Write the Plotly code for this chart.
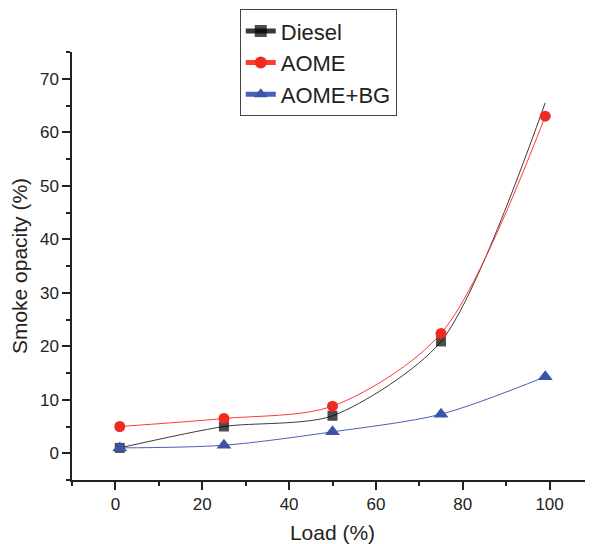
import plotly.graph_objects as go

load = [1, 25, 50, 75, 99]
diesel = [1.0, 5.0, 7.0, 20.9, 65.5]
aome = [5.0, 6.5, 8.8, 22.4, 63.0]
aome_bg = [1.0, 1.5, 4.0, 7.3, 14.3]

x_ticks = [0, 20, 40, 60, 80, 100]
y_ticks = [0, 10, 20, 30, 40, 50, 60, 70]

fig = go.Figure()

# Diesel: last marker not drawn in reference
diesel_sizes = [10] * (len(diesel) - 1) + [0]
fig.add_trace(go.Scatter(
    x=load, y=diesel, name="Diesel", mode="lines+markers",
    line=dict(color="#3a3a3a", width=1, shape="spline", smoothing=0.75),
    marker=dict(symbol="square", size=diesel_sizes, color="#000000", line=dict(width=0)),
))
fig.add_trace(go.Scatter(
    x=load, y=aome, name="AOME", mode="lines+markers",
    line=dict(color="#ff3b30", width=1, shape="spline", smoothing=0.85),
    marker=dict(symbol="circle", size=11, color="#ee2a22", line=dict(width=0)),
))
fig.add_trace(go.Scatter(
    x=load, y=aome_bg, name="AOME+BG", mode="lines+markers",
    line=dict(color="#4a5fb8", width=1, shape="spline", smoothing=0.85),
    marker=dict(symbol="triangle-up", size=13, color="#3a55a8", line=dict(width=0)),
))

font_family = "Liberation Sans, Arial, sans-serif"
ink = "#222222"

# page body has an 8px default margin, so the figure is offset by 8px
fig.update_layout(
    width=585, height=536,
    margin=dict(l=64, r=0, t=44, b=64),
    paper_bgcolor="white", plot_bgcolor="white",
    font=dict(family=font_family, color=ink),
    showlegend=True,
    legend=dict(
        x=0.322, y=1.10, xanchor="left", yanchor="top",
        bgcolor="white", bordercolor="#444444", borderwidth=1,
        font=dict(size=22, family=font_family, color=ink),
        itemsizing="constant",
        tracegroupgap=0,
    ),
    xaxis=dict(
        range=[-10, 110], tickvals=x_ticks, ticktext=[str(v) for v in x_ticks],
        showgrid=False, zeroline=False,
        showline=True, linecolor=ink, linewidth=1.5,
        ticks="outside", ticklen=8, tickwidth=1.5, tickcolor=ink,
        minor=dict(dtick=10, tick0=0, ticks="outside", ticklen=4, tickwidth=1.5, tickcolor=ink),
        tickfont=dict(size=17, family=font_family, color=ink),
        title=dict(text="Load (%)", font=dict(size=21, family=font_family, color=ink), standoff=12),
    ),
    yaxis=dict(
        range=[-5, 75], tickvals=y_ticks, ticktext=[str(v) for v in y_ticks],
        showgrid=False, zeroline=False,
        showline=True, linecolor=ink, linewidth=1.5,
        ticks="outside", ticklen=8, tickwidth=1.5, tickcolor=ink,
        minor=dict(dtick=5, tick0=0, ticks="outside", ticklen=4, tickwidth=1.5, tickcolor=ink),
        tickfont=dict(size=17, family=font_family, color=ink),
        title=dict(text="Smoke opacity (%)", font=dict(size=21, family=font_family, color=ink), standoff=8),
    ),
)

fig.write_html("out.html")
